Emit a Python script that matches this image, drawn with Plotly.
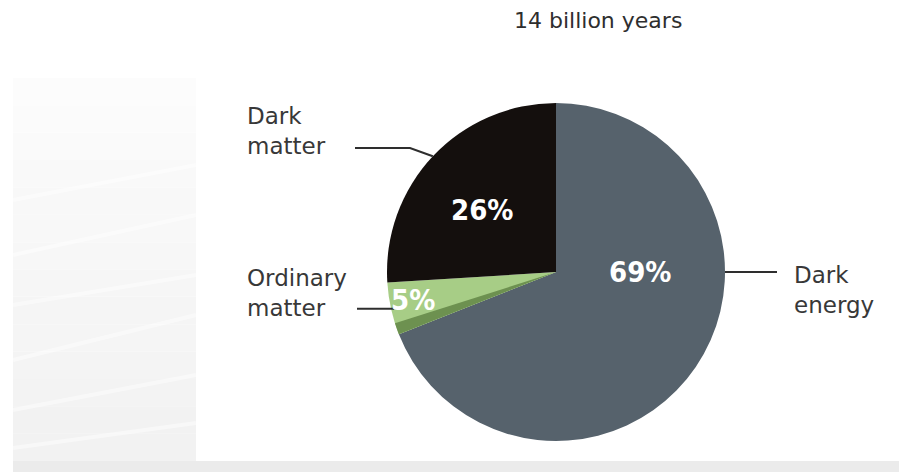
import math
import plotly.graph_objects as go

# ---- data -------------------------------------------------------------
# slices listed clockwise from 12 o'clock
components = ["Dark energy", "Ordinary matter", "Dark matter"]
shares = [69, 5, 26]                       # percent of the universe's content
slice_colors = ["#56626c", "#a7cd86", "#140f0d"]
label_texts = ["Dark<br>energy", "Ordinary<br>matter", "Dark<br>matter"]
title_text = "14 billion years"

# darker rim drawn along the lower edge of the ordinary-matter wedge
rim_fraction = 0.22
rim_color = "#6d9150"

# ---- geometry (pixels) -----------------------------------------------
W, H = 899, 472
CX, CY, R = 556, 272, 169


def px(x, y):
    """pixel position -> paper coordinates"""
    return x / W, 1 - y / H


def on_circle(angle_deg, r):
    a = math.radians(angle_deg)
    return CX + r * math.cos(a), CY - r * math.sin(a)


# mid-angle of every slice (standard math angle, degrees)
total = sum(shares)
mids = []
acc = 0.0
for v in shares:
    cw_mid = 360 * (acc + v / 2) / total
    mids.append((90 - cw_mid) % 360)
    acc += v
IDX = {name: i for i, name in enumerate(components)}

dom_x = [(CX - R) / W, (CX + R) / W]
dom_y = [1 - (CY + R) / H, 1 - (CY - R) / H]

fig = go.Figure()

# main pie
fig.add_trace(go.Pie(
    labels=components, values=shares, sort=False, direction="clockwise",
    rotation=0, marker=dict(colors=slice_colors, line=dict(width=0)),
    textinfo="none", hoverinfo="label+percent", showlegend=False,
    domain=dict(x=dom_x, y=dom_y),
))

# rim strip on the ordinary-matter wedge (the part bordering dark energy)
de, om, dm = shares
rim_values = [de, om * rim_fraction, om * (1 - rim_fraction), dm]
fig.add_trace(go.Pie(
    values=rim_values, sort=False, direction="clockwise", rotation=0,
    marker=dict(colors=["rgba(0,0,0,0)", rim_color, "rgba(0,0,0,0)", "rgba(0,0,0,0)"],
                line=dict(width=0)),
    textinfo="none", hoverinfo="skip", showlegend=False,
    domain=dict(x=dom_x, y=dom_y),
))

shapes = []
annotations = []

# ---- background panels ------------------------------------------------
bands = 14
top, bottom = 78, 461
for i in range(bands):
    y0 = top + (bottom - top) * i / bands
    y1 = top + (bottom - top) * (i + 1) / bands
    g = int(252 - 10 * i / (bands - 1))
    x0p, y0p = px(13, y0)
    x1p, y1p = px(196, y1)
    shapes.append(dict(type="rect", xref="paper", yref="paper", x0=x0p, x1=x1p,
                       y0=y1p, y1=y0p, fillcolor=f"rgb({g},{g},{g})",
                       line=dict(width=0), layer="below"))
# faint streaks across the side panel
for sy, dy in [(200, -35), (255, -40), (305, -30), (360, -45), (410, -35), (448, -25)]:
    xa, ya = px(13, sy)
    xb, yb = px(196, sy + dy)
    shapes.append(dict(type="line", xref="paper", yref="paper", x0=xa, y0=ya,
                       x1=xb, y1=yb, line=dict(color="rgba(255,255,255,0.45)", width=4),
                       layer="below"))
xa, ya = px(13, 461)
xb, yb = px(W, H)
shapes.append(dict(type="rect", xref="paper", yref="paper", x0=xa, x1=xb, y0=yb, y1=ya,
                   fillcolor="#ebebeb", line=dict(width=0), layer="below"))

# ---- leader lines -----------------------------------------------------
line_style = dict(color="#2e2e2e", width=2)

# dark matter: elbowed line from the wedge's mid-angle
p0 = on_circle(mids[IDX["Dark matter"]], R)
dm_pts = [(355, 148), (410, 148), p0]
path = "M " + " L ".join(f"{px(x, y)[0]},{px(x, y)[1]}" for x, y in dm_pts)
shapes.append(dict(type="path", xref="paper", yref="paper", path=path, line=line_style))

# ordinary matter: straight line to the wedge's mid-angle
p1 = on_circle(mids[IDX["Ordinary matter"]], R)
xa, ya = px(357, p1[1])
xb, yb = px(p1[0] + 3, p1[1])
shapes.append(dict(type="line", xref="paper", yref="paper", x0=xa, y0=ya, x1=xb, y1=yb,
                   line=line_style))

# dark energy: horizontal line from the right-hand edge
p2 = on_circle(0, R)
xa, ya = px(p2[0], p2[1])
xb, yb = px(777, p2[1])
shapes.append(dict(type="line", xref="paper", yref="paper", x0=xa, y0=ya, x1=xb, y1=yb,
                   line=line_style))

# ---- text -------------------------------------------------------------
label_font = dict(family="DejaVu Sans", size=23, color="#383838")
label_pos = [(792, 290), (245, 293), (245, 131)]
for txt, (x, y) in zip(label_texts, label_pos):
    xp, yp = px(x, y)
    annotations.append(dict(text=txt, x=xp, y=yp, xref="paper", yref="paper",
                            xanchor="left", yanchor="middle", align="left",
                            showarrow=False, font=label_font))

pct_font = dict(family="DejaVu Sans Condensed, DejaVu Sans",
                size=29, color="#ffffff", weight="bold")
pct_anchor = [(0, 84), (191, 146), (140, 97)]   # (angle, radius) of each value label
for v, (ang, rr) in zip(shares, pct_anchor):
    x, y = on_circle(ang, rr)
    xp, yp = px(x, y)
    annotations.append(dict(text=f"{v}%", x=xp, y=yp, xref="paper", yref="paper",
                            xanchor="center", yanchor="middle", showarrow=False,
                            font=pct_font))

xp, yp = px(598, 20)
annotations.append(dict(text=title_text, x=xp, y=yp, xref="paper", yref="paper",
                        xanchor="center", yanchor="middle", showarrow=False,
                        font=dict(family="DejaVu Sans", size=22, color="#2e2e2e")))

fig.update_layout(
    width=W, height=H, margin=dict(l=0, r=0, t=0, b=0),
    paper_bgcolor="#ffffff", plot_bgcolor="#ffffff",
    shapes=shapes, annotations=annotations, showlegend=False,
)

fig.write_html("out.html")
